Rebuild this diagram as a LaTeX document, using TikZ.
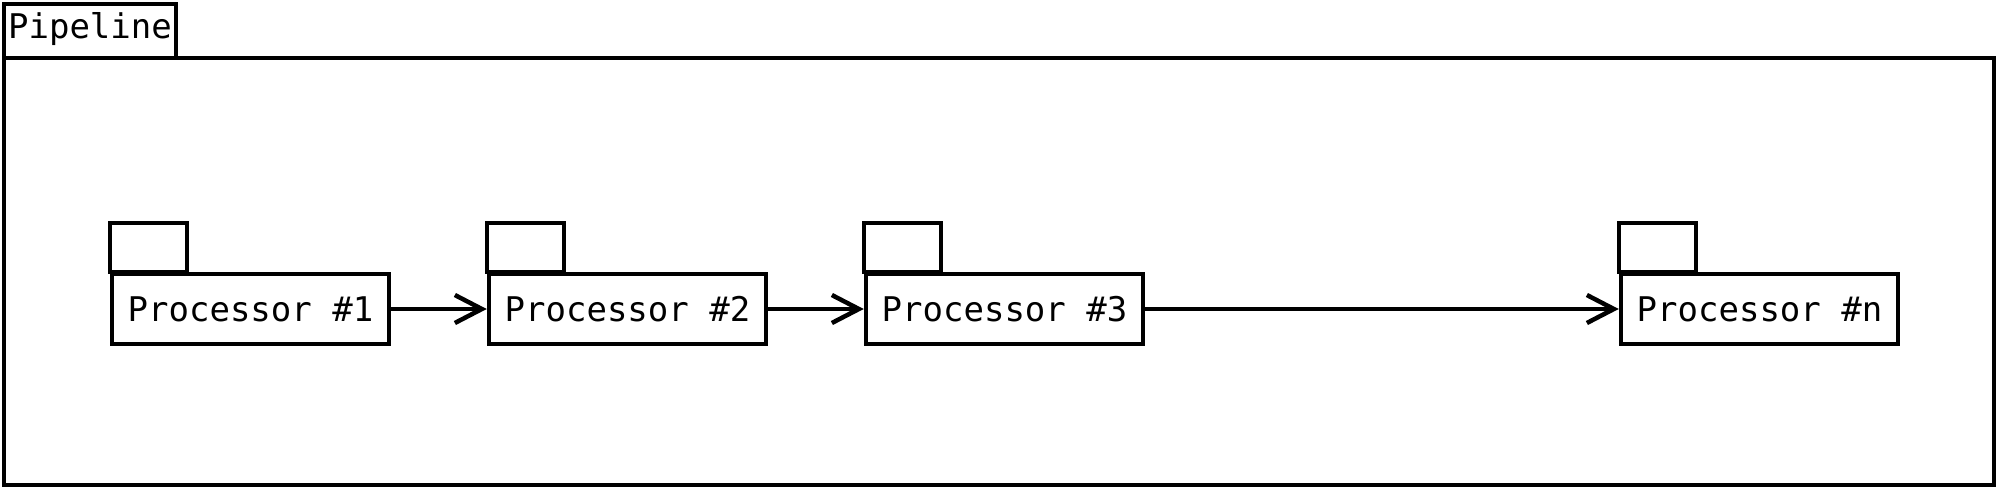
\documentclass[tikz,border=0pt]{standalone}
\usepackage{fontspec}
\setmonofont{DejaVu Sans Mono}
\usetikzlibrary{arrows.meta}
\begin{document}
\begin{tikzpicture}[x=1pt,y=-1pt,
  frame/.style={draw=black,line width=4.5pt},
  proc/.style={frame,rectangle,minimum width=277pt,minimum height=70pt,inner sep=0pt,
    font=\ttfamily\fontsize{34}{40}\selectfont},
  flow/.style={line width=4.5pt,-{Straight Barb[length=27pt,width=28pt,line width=4.5pt]}}]
\useasboundingbox (0,0) rectangle (1999,491);
% pipeline package
\draw[frame] (4,58) rectangle (1994,485);
\draw[frame] (4,4) rectangle (176,58);
\node[font=\ttfamily\fontsize{34}{40}\selectfont] (pl) at (90,29) {Pipeline};
% processors
\node[proc] (p1) at (250.5,309) {Processor \#1};
\node[proc] (p2) at (627.5,309) {Processor \#2};
\node[proc] (p3) at (1004.5,309) {Processor \#3};
\node[proc] (pn) at (1759.5,309) {Processor \#n};
\foreach \p in {p1,p2,p3,pn}{
  \draw[frame] (\p.north west) rectangle ++(77,-49);
}
\draw[flow] (p1) -- (p2);
\draw[flow] (p2) -- (p3);
\draw[flow] (p3) -- (pn);
\end{tikzpicture}
\end{document}
